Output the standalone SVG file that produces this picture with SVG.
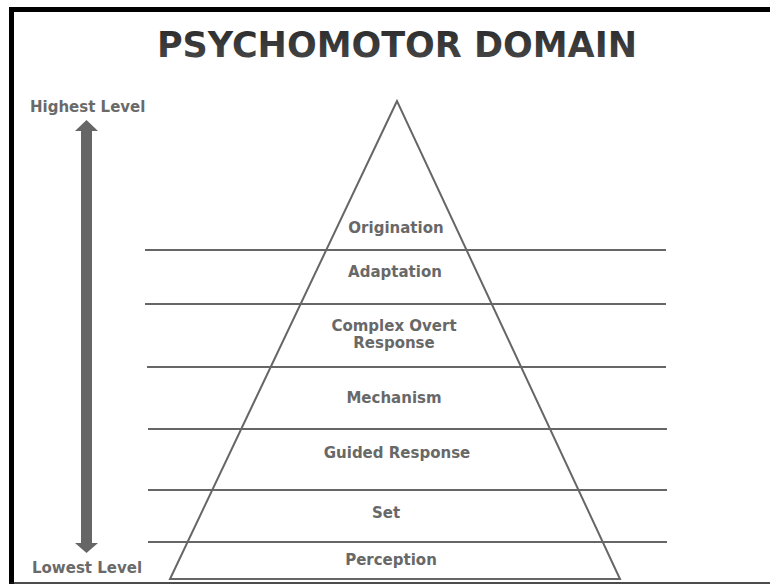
<svg xmlns="http://www.w3.org/2000/svg" width="770" height="584" viewBox="0 0 770 584">
  <style>
    .lbl { font-family: "DejaVu Sans", Verdana, sans-serif; font-weight: bold; font-size: 15px; fill: #686868; text-anchor: middle; }
    .side { font-family: "DejaVu Sans", Verdana, sans-serif; font-weight: bold; font-size: 15px; fill: #6a6a6a; }
    .title { font-family: "DejaVu Sans", Verdana, sans-serif; font-weight: bold; font-size: 35px; text-anchor: middle; }
    .lvl { stroke: #666666; stroke-width: 2; fill: none; }
  </style>
  <defs>
    <linearGradient id="tg" x1="0" y1="0" x2="0" y2="1">
      <stop offset="0" stop-color="#2a2a2a"/>
      <stop offset="1" stop-color="#4a4a4a"/>
    </linearGradient>
  </defs>
  <rect x="0" y="0" width="770" height="584" fill="#ffffff"/>
  <!-- frame -->
  <rect x="9" y="7" width="761" height="5" fill="#000000"/>
  <rect x="9" y="7" width="5" height="577" fill="#000000"/>
  <line x1="9" y1="583" x2="770" y2="583" stroke="#111111" stroke-width="1.5"/>

  <text class="title" x="397" y="57" style="fill:url(#tg)">PSYCHOMOTOR DOMAIN</text>

  <g id="connectors">
    <line class="lvl" x1="145" y1="250" x2="666" y2="250"/>
    <line class="lvl" x1="145" y1="304" x2="666" y2="304"/>
    <line class="lvl" x1="147" y1="367" x2="666" y2="367"/>
    <line class="lvl" x1="148" y1="429" x2="667" y2="429"/>
    <line class="lvl" x1="148" y1="490" x2="667" y2="490"/>
    <line class="lvl" x1="148" y1="542" x2="667" y2="542"/>
  </g>

  <g id="pyramid">
    <polygon points="397,101 170,579 620,579" fill="none" stroke="#666666" stroke-width="2" stroke-linejoin="miter"/>
  </g>

  <g id="level-arrow">
    <rect x="81" y="130" width="11" height="414" fill="#666666"/>
    <polygon points="86.5,120 75,131 98,131" fill="#666666"/>
    <polygon points="86.5,553 75,543 98,543" fill="#666666"/>
  </g>

  <g id="highest"><text class="side" x="30" y="112">Highest Level</text></g>
  <g id="lowest"><text class="side" x="32" y="573">Lowest Level</text></g>

  <g id="origination"><text class="lbl" x="396" y="233">Origination</text></g>
  <g id="adaptation"><text class="lbl" x="395" y="277">Adaptation</text></g>
  <g id="complex-overt-response"><text class="lbl" x="394" y="331">Complex Overt</text><text class="lbl" x="394" y="348">Response</text></g>
  <g id="mechanism"><text class="lbl" x="394" y="403">Mechanism</text></g>
  <g id="guided-response"><text class="lbl" x="397" y="458">Guided Response</text></g>
  <g id="set"><text class="lbl" x="386" y="518">Set</text></g>
  <g id="perception"><text class="lbl" x="391" y="565">Perception</text></g>
</svg>
